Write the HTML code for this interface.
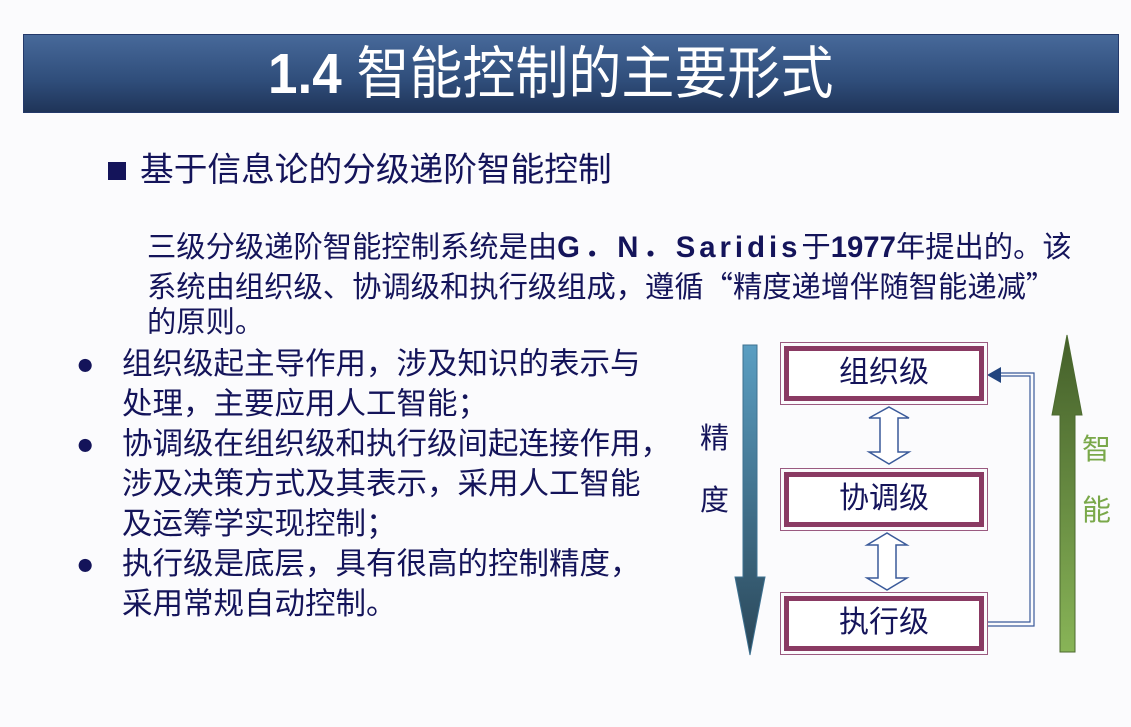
<!DOCTYPE html>
<html><head><meta charset="utf-8"><style>
body{margin:0;width:1131px;height:727px;background:#fbfbfd;position:relative;overflow:hidden;font-family:"Liberation Sans","Noto Sans CJK SC",sans-serif;color:#14145a}
.t{position:absolute;white-space:nowrap;line-height:1}
.q{font-family:"Noto Sans CJK SC",sans-serif}
#bar{position:absolute;left:23px;top:34px;width:1094px;height:77px;background:linear-gradient(#47699a,#2f4d7a 60%,#1f3458);border:1px solid #24396a}
.box{position:absolute;left:780px;width:208px;height:63px;border:1px solid #9a5a80;box-sizing:border-box}
.box div{position:absolute;left:3px;top:3px;right:3px;bottom:3px;border:5px solid #8a3a63;text-align:center;line-height:43px;font-size:30px;color:#14145a;background:#fff}
</style></head><body>
<div id="bar"></div>
<div class="t" style="left:268px;top:46px;font-size:53px;color:#fff;font-weight:bold;transform:scaleY(1.07);transform-origin:top left">1.4 <span style="font-weight:normal">智能控制的主要形式</span></div>
<div style="position:absolute;left:108px;top:162px;width:18px;height:18px;background:#14145a"></div>
<div class="t" style="left:140px;top:154px;font-size:33.7px">基于信息论的分级递阶智能控制</div>
<div class="t" style="left:147px;top:233px;font-size:29.3px">三级分级递阶智能控制系统是由<b style="letter-spacing:4px">G．N．Saridis</b>于<b>1977</b>年提出的。该</div>
<div class="t" style="left:147px;top:271px;font-size:29.3px">系统由组织级、协调级和执行级组成，遵循<span class="q">“</span>精度递增伴随智能递减<span class="q">”</span></div>
<div class="t" style="left:147px;top:308px;font-size:29.3px">的原则。</div>
<div class="t" style="left:76px;top:344px;font-size:30.5px;line-height:40px">●<br><br>●<br><br><br>●</div>
<div class="t" style="left:122px;top:344px;font-size:30.5px;line-height:40px">组织级起主导作用，涉及知识的表示与<br>处理，主要应用人工智能；<br>协调级在组织级和执行级间起连接作用，<br>涉及决策方式及其表示，采用人工智能<br>及运筹学实现控制；<br>执行级是底层，具有很高的控制精度，<br>采用常规自动控制。</div>
<svg style="position:absolute;left:0;top:0" width="1131" height="727">
<defs>
<linearGradient id="gb" x1="0" y1="0" x2="0" y2="1"><stop offset="0" stop-color="#5a9ec2"/><stop offset="1" stop-color="#2a4658"/></linearGradient>
<linearGradient id="gg" x1="0" y1="1" x2="0" y2="0"><stop offset="0" stop-color="#88b457"/><stop offset="1" stop-color="#445f2a"/></linearGradient>
</defs>
<polygon points="743,345 757,345 757,577 765,577 750,655 735,577 743,577" fill="url(#gb)" stroke="#3d7090" stroke-width="1"/>
<polygon points="1060,652 1075,652 1075,415 1082,415 1067,335 1052,415 1060,415" fill="url(#gg)" stroke="#4c6a30" stroke-width="1"/>
<g fill="#fff" stroke="#3a5a9a" stroke-width="1.5">
<polygon points="889,407 909,418 898,418 898,452 909,452 889,464 869,452 880,452 880,418 869,418"/>
<polygon points="887,533 907,545 896,545 896,578 907,578 887,590 867,578 878,578 878,545 867,545"/>
</g>
<g fill="none" stroke="#3a5a9a" stroke-width="1.2">
<polyline points="988,622 1030,622 1030,376 998,376"/>
<polyline points="988,626 1034,626 1034,373 998,373"/>
</g>
<polygon points="987,375 1001,367 1001,383" fill="#23457f"/>
</svg>
<div class="box" style="top:342px"><div>组织级</div></div>
<div class="box" style="top:468px"><div>协调级</div></div>
<div class="box" style="top:592px"><div>执行级</div></div>
<div class="t" style="left:700px;top:425px;font-size:29px;color:#14145a">精</div>
<div class="t" style="left:700px;top:487px;font-size:29px;color:#14145a">度</div>
<div class="t" style="left:1082px;top:436px;font-size:29px;color:#7aa84a">智</div>
<div class="t" style="left:1082px;top:497px;font-size:29px;color:#7aa84a">能</div>
</body></html>
